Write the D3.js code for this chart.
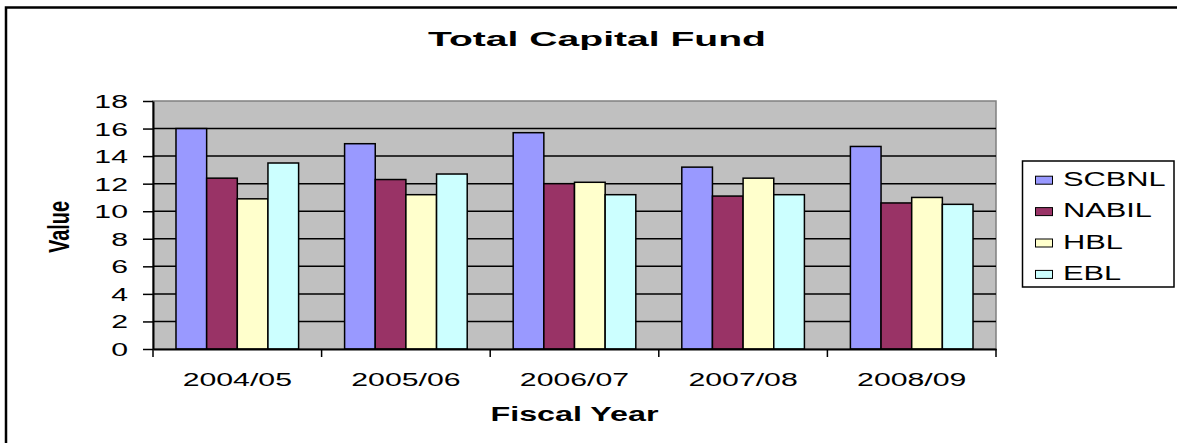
<!DOCTYPE html>
<html lang="en">
<head>
    <meta charset="UTF-8">
    <title>Total Capital Fund</title>
    <script src="https://d3js.org/d3.v7.min.js"></script>
    <style>
        body {
            margin: 0;
            background: #fff;
        }
        svg text {
            font-family: Arial, "Liberation Sans", sans-serif;
            fill: #000;
        }
    </style>
</head>
<body>
    <div id="container"></div>

    <script>
        // chart data
        const years = ['2004/05', '2005/06', '2006/07', '2007/08', '2008/09'];
        const banks = ['SCBNL', 'NABIL', 'HBL', 'EBL'];
        const scbnl = [16.0, 14.9, 15.7, 13.2, 14.7];
        const nabil = [12.4, 12.3, 12.0, 11.1, 10.6];
        const hbl = [10.9, 11.2, 12.1, 12.4, 11.0];
        const ebl = [13.5, 12.7, 11.2, 11.2, 10.5];
        const yTicks = [0, 2, 4, 6, 8, 10, 12, 14, 16, 18];
        const colors = ['#9999FF', '#993366', '#FFFFCC', '#CCFFFF'];

        const seriesValues = [scbnl, nabil, hbl, ebl];

        const width = 1177;
        const height = 443;

        // plot area
        const plotLeft = 153, plotRight = 996, plotTop = 101, plotBottom = 349;

        const svg = d3.select('#container')
            .append('svg')
            .attr('width', width)
            .attr('height', height);

        // outer chart border (only top and left visible)
        svg.append('rect')
            .attr('x', 6)
            .attr('y', 7.5)
            .attr('width', 1300)
            .attr('height', 600)
            .attr('fill', 'none')
            .attr('stroke', '#000')
            .attr('stroke-width', 2.5);

        const x = d3.scaleBand()
            .domain(years)
            .range([plotLeft, plotRight])
            .padding(0);

        const xInner = d3.scaleBand()
            .domain(banks)
            .range([0, x.bandwidth()])
            .paddingInner(0)
            .paddingOuter(0.75);

        const y = d3.scaleLinear()
            .domain([0, 18])
            .range([plotBottom, plotTop]);

        const color = d3.scaleOrdinal()
            .domain(banks)
            .range(colors);

        // plot background
        svg.append('rect')
            .attr('x', plotLeft)
            .attr('y', plotTop)
            .attr('width', plotRight - plotLeft)
            .attr('height', plotBottom - plotTop)
            .attr('fill', '#C0C0C0')
            .attr('stroke', '#808080')
            .attr('stroke-width', 1.5);

        // gridlines
        svg.append('g')
            .selectAll('line')
            .data(yTicks.filter(d => d > 0 && d < 18))
            .enter()
            .append('line')
            .attr('x1', plotLeft)
            .attr('x2', plotRight)
            .attr('y1', d => y(d))
            .attr('y2', d => y(d))
            .attr('stroke', '#000')
            .attr('stroke-width', 1.5);

        // bars
        const rows = years.map((yr, i) => {
            const row = { year: yr };
            banks.forEach((b, j) => { row[b] = seriesValues[j][i]; });
            return row;
        });

        svg.append('g')
            .selectAll('g')
            .data(rows)
            .enter()
            .append('g')
            .attr('transform', d => `translate(${x(d.year)},0)`)
            .selectAll('rect')
            .data(d => banks.map(b => ({ key: b, value: d[b] })))
            .enter()
            .append('rect')
            .attr('x', d => xInner(d.key))
            .attr('y', d => y(d.value))
            .attr('width', xInner.bandwidth())
            .attr('height', d => y(0) - y(d.value))
            .attr('fill', d => color(d.key))
            .attr('stroke', '#000')
            .attr('stroke-width', 1.5);

        // y axis
        const yAxis = svg.append('g')
            .attr('transform', `translate(${plotLeft},0)`)
            .call(d3.axisLeft(y).tickValues(yTicks).tickSize(10).tickSizeOuter(0));
        yAxis.select('.domain').attr('stroke', '#000').attr('stroke-width', 2);
        yAxis.selectAll('.tick line').attr('stroke', '#000').attr('stroke-width', 1.5);
        yAxis.selectAll('.tick text')
            .attr('x', 0)
            .attr('dy', '0.36em')
            .attr('transform', 'translate(-25,0) scale(1.68,1)')
            .style('font-size', '18px');

        // x axis
        const xAxis = svg.append('g')
            .attr('transform', `translate(0,${plotBottom})`)
            .call(d3.axisBottom(x).tickSize(0).tickSizeOuter(0));
        xAxis.select('.domain').attr('stroke', '#000').attr('stroke-width', 2);
        xAxis.selectAll('.tick text')
            .attr('y', 0)
            .attr('dy', 0)
            .attr('transform', 'translate(0,37) scale(1.68,1)')
            .style('font-size', '18px');

        // category boundary ticks
        xAxis.selectAll('.bound')
            .data(years.map(d => x(d)).concat([x.range()[1]]))
            .enter()
            .append('line')
            .attr('class', 'bound')
            .attr('x1', d => d)
            .attr('x2', d => d)
            .attr('y1', 0)
            .attr('y2', 8)
            .attr('stroke', '#000')
            .attr('stroke-width', 1.5);

        // title
        svg.append('text')
            .attr('x', 597)
            .attr('y', 46)
            .attr('text-anchor', 'middle')
            .attr('textLength', 338)
            .attr('lengthAdjust', 'spacingAndGlyphs')
            .style('font-size', '21px')
            .style('font-weight', 'bold')
            .text('Total Capital Fund');

        // axis titles
        svg.append('text')
            .attr('x', (plotLeft + plotRight) / 2)
            .attr('y', 421)
            .attr('text-anchor', 'middle')
            .attr('textLength', 168)
            .attr('lengthAdjust', 'spacingAndGlyphs')
            .style('font-size', '20px')
            .style('font-weight', 'bold')
            .text('Fiscal Year');

        svg.append('text')
            .attr('transform', `translate(69,${(plotTop + plotBottom) / 2 + 2}) rotate(-90) scale(1,1.55)`)
            .attr('text-anchor', 'middle')
            .attr('textLength', 52)
            .attr('lengthAdjust', 'spacingAndGlyphs')
            .style('font-size', '19px')
            .style('font-weight', 'bold')
            .text('Value');

        // legend
        const legend = svg.append('g');
        legend.append('rect')
            .attr('x', 1022.5)
            .attr('y', 161)
            .attr('width', 151.5)
            .attr('height', 126)
            .attr('fill', '#fff')
            .attr('stroke', '#000')
            .attr('stroke-width', 1.5);

        const item = legend.selectAll('.item')
            .data(banks)
            .enter()
            .append('g')
            .attr('class', 'item')
            .attr('transform', (d, i) => `translate(0,${185.7 + i * 31.4})`);

        item.append('rect')
            .attr('x', 1035.5)
            .attr('y', -9.5)
            .attr('width', 17)
            .attr('height', 8)
            .attr('fill', d => color(d))
            .attr('stroke', '#000')
            .attr('stroke-width', 1);

        item.append('text')
            .attr('transform', 'translate(1063,0) scale(1.54,1)')
            .style('font-size', '20px')
            .text(d => d);
    </script>
</body>
</html>
